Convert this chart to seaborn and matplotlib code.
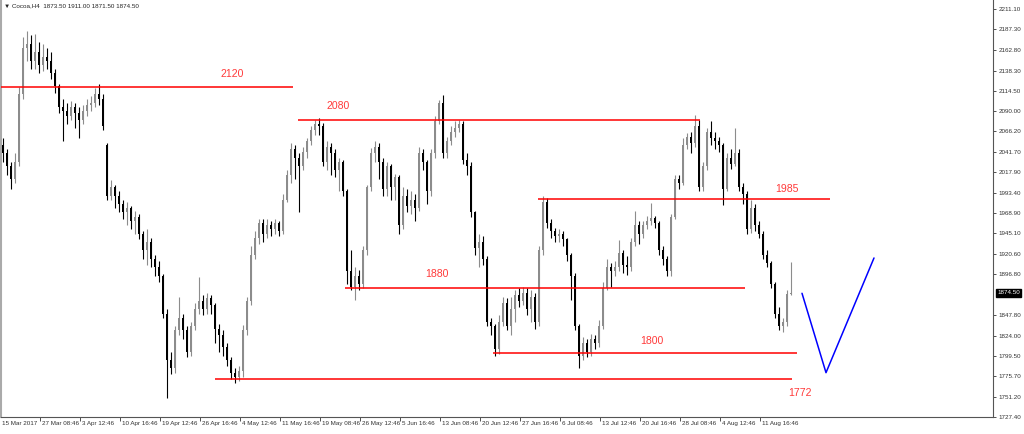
import numpy as np
import pandas as pd
import matplotlib
matplotlib.use("Agg")
import matplotlib.pyplot as plt
import seaborn as sns

# ---------------- data (Cocoa H4) ----------------
opens = [
    2050, 2040, 2025, 2010, 2030, 2110, 2165, 2170, 2150, 2160,
    2145, 2155, 2150, 2135, 2120, 2095, 2090, 2085, 2095, 2088,
    2080, 2090, 2097, 2100, 2110, 2105, 2050, 1990, 2000, 1990,
    1980, 1970, 1975, 1960, 1965, 1945, 1925, 1935, 1915, 1905,
    1895, 1850, 1795, 1785, 1830, 1845, 1830, 1805, 1835, 1855,
    1865, 1855, 1868, 1860, 1832, 1825, 1810, 1795, 1780, 1775,
    1782, 1830, 1865, 1920, 1940, 1958, 1945, 1955, 1950, 1958,
    1948, 1985, 2015, 2045, 2035, 2025, 2042, 2055, 2068, 2075,
    2072, 2030, 2048, 2040, 2020, 2030, 1995, 1900, 1882, 1895,
    1885, 1925, 2000, 2040, 2048, 2030, 1998, 2025, 2000, 2012,
    1955, 1990, 1978, 1985, 1975, 2040, 2030, 1995, 2040, 2078,
    2100, 2040, 2055, 2065, 2070, 2075, 2032, 2025, 1970, 1928,
    1935, 1915, 1840, 1835, 1808, 1840, 1862, 1835, 1855, 1872,
    1865, 1875, 1855, 1870, 1840, 1925, 1983, 1958, 1948, 1942,
    1945, 1938, 1920, 1895, 1835, 1800, 1815, 1805, 1820, 1815,
    1835, 1880, 1905, 1900, 1905, 1922, 1908, 1905, 1935, 1955,
    1945, 1955, 1960, 1963, 1958, 1926, 1915, 1900, 1965, 2010,
    2005, 2050, 2060, 2052, 2072, 2000, 2025, 2065, 2058, 2055,
    2050, 1998, 2035, 2028, 2040, 2000, 1992, 1950, 1975, 1955,
    1945, 1920, 1910, 1885, 1850, 1835, 1840, 1873.5,
]
highs = [
    2058, 2045, 2030, 2040, 2119, 2178, 2185, 2180, 2182, 2172,
    2170, 2165, 2160, 2140, 2122, 2105, 2100, 2102, 2100, 2095,
    2098, 2105, 2108, 2118, 2123, 2110, 2052, 2008, 2003, 1995,
    1985, 1982, 1978, 1972, 1968, 1948, 1950, 1940, 1920, 1912,
    1897, 1855, 1805, 1835, 1870, 1850, 1835, 1840, 1862, 1893,
    1872, 1875, 1872, 1862, 1838, 1830, 1815, 1798, 1785, 1788,
    1836, 1870, 1930, 1948, 1962, 1962, 1962, 1960, 1962, 1960,
    1992, 2020, 2052, 2050, 2040, 2048, 2058, 2072, 2080, 2082,
    2076, 2055, 2052, 2045, 2035, 2032, 1998, 1925, 1905, 1902,
    1930, 2003, 2046, 2055, 2052, 2035, 2030, 2028, 2016, 2015,
    2000, 1998, 1995, 1992, 2048, 2045, 2032, 2045, 2085, 2103,
    2109, 2060, 2072, 2078, 2080, 2078, 2040, 2030, 1972, 1945,
    1942, 1918, 1845, 1838, 1848, 1870, 1868, 1870, 1878, 1880,
    1882, 1880, 1878, 1875, 1930, 1990, 1987, 1962, 1952, 1950,
    1948, 1940, 1922, 1898, 1838, 1822, 1820, 1826, 1825, 1842,
    1888, 1915, 1910, 1912, 1937, 1926, 1918, 1940, 1972, 1960,
    1960, 1966, 1981, 1966, 1960, 1930, 1918, 1968, 2014, 2015,
    2058, 2064, 2066, 2086, 2080, 2030, 2070, 2078, 2066, 2060,
    2052, 2040, 2045, 2070, 2045, 2005, 1996, 1985, 1980, 1960,
    1948, 1925, 1912, 1888, 1858, 1845, 1878, 1911,
]
lows = [
    2030, 2015, 1998, 2005, 2025, 2105, 2150, 2140, 2140, 2135,
    2138, 2140, 2128, 2112, 2088, 2055, 2075, 2080, 2070, 2058,
    2075, 2085, 2090, 2095, 2098, 2068, 1985, 1985, 1975, 1970,
    1962, 1955, 1950, 1945, 1938, 1915, 1908, 1905, 1895, 1888,
    1845, 1750, 1778, 1780, 1825, 1820, 1798, 1800, 1830, 1850,
    1848, 1850, 1850, 1815, 1805, 1800, 1788, 1772, 1768, 1770,
    1775, 1825, 1860, 1915, 1932, 1935, 1940, 1942, 1945, 1942,
    1945, 1982, 2005, 2010, 1970, 2020, 2035, 2050, 2062, 2062,
    2025, 2020, 2015, 2012, 1995, 1990, 1885, 1878, 1866, 1878,
    1880, 1920, 1995, 2030, 2010, 1990, 1990, 1985, 1985, 1945,
    1950, 1970, 1968, 1960, 1972, 2020, 1980, 1990, 2035, 2075,
    2035, 2035, 2050, 2060, 2065, 2028, 2015, 1965, 1920, 1905,
    1908, 1835, 1825, 1800, 1802, 1835, 1830, 1825, 1840, 1858,
    1860, 1848, 1840, 1832, 1835, 1920, 1952, 1940, 1935, 1935,
    1930, 1912, 1866, 1830, 1786, 1795, 1798, 1800, 1808, 1810,
    1832, 1878, 1882, 1895, 1900, 1898, 1896, 1900, 1930, 1932,
    1940, 1950, 1955, 1952, 1920, 1908, 1895, 1895, 1962, 1998,
    2002, 2045, 2040, 2048, 1995, 1996, 2020, 2050, 2045, 2042,
    1979, 1995, 2022, 2025, 1995, 1980, 1945, 1946, 1948, 1940,
    1915, 1905, 1880, 1845, 1830, 1828, 1835, 1871.5,
]
closes = [
    2040, 2025, 2010, 2030, 2110, 2165, 2170, 2150, 2160, 2145,
    2155, 2150, 2135, 2120, 2095, 2090, 2085, 2095, 2088, 2080,
    2090, 2097, 2100, 2110, 2105, 2072, 1990, 2000, 1990, 1980,
    1970, 1975, 1960, 1965, 1945, 1925, 1935, 1915, 1905, 1895,
    1850, 1795, 1785, 1830, 1845, 1830, 1805, 1835, 1855, 1865,
    1855, 1868, 1860, 1832, 1825, 1810, 1795, 1780, 1775, 1782,
    1830, 1865, 1920, 1940, 1958, 1945, 1955, 1950, 1958, 1948,
    1985, 2015, 2045, 2035, 2025, 2042, 2055, 2068, 2075, 2072,
    2030, 2048, 2040, 2020, 2030, 1995, 1900, 1882, 1895, 1885,
    1925, 2000, 2040, 2048, 2030, 1998, 2025, 2000, 2012, 1955,
    1990, 1978, 1985, 1975, 2040, 2030, 1995, 2040, 2078, 2100,
    2040, 2055, 2065, 2070, 2075, 2032, 2025, 1970, 1928, 1935,
    1915, 1840, 1835, 1808, 1840, 1862, 1835, 1855, 1872, 1865,
    1875, 1855, 1870, 1840, 1925, 1983, 1958, 1948, 1942, 1945,
    1938, 1920, 1895, 1835, 1800, 1815, 1805, 1820, 1815, 1835,
    1880, 1905, 1900, 1905, 1922, 1908, 1905, 1935, 1955, 1945,
    1955, 1960, 1963, 1958, 1926, 1915, 1900, 1965, 2010, 2005,
    2050, 2060, 2052, 2072, 2000, 2025, 2065, 2058, 2055, 2050,
    1998, 2035, 2028, 2040, 2000, 1992, 1950, 1975, 1955, 1945,
    1920, 1910, 1885, 1850, 1835, 1840, 1873.5, 1874.5,
]

date_labels = ["15 Mar 2017", "27 Mar 08:46", "3 Apr 12:46", "10 Apr 16:46",
               "19 Apr 12:46", "26 Apr 16:46", "4 May 12:46", "11 May 16:46",
               "19 May 08:46", "26 May 12:46", "5 Jun 16:46", "13 Jun 08:46",
               "20 Jun 12:46", "27 Jun 16:46", "6 Jul 08:46", "13 Jul 12:46",
               "20 Jul 16:46", "28 Jul 08:46", "4 Aug 12:46", "11 Aug 16:46"]
date_bars = [0, 10, 20, 30, 40, 50, 60, 70, 80, 90,
             100, 110, 120, 130, 140, 150, 160, 170, 180, 190]

price_ticks = [2211.10, 2187.30, 2162.80, 2138.30, 2114.50, 2090.00, 2066.20,
               2041.70, 2017.90, 1993.40, 1968.90, 1945.10, 1920.60, 1896.80,
               1847.80, 1824.00, 1799.50, 1775.70, 1751.20, 1727.40]

# horizontal levels: price, start bar, end bar, label, label bar, label price
level_price = [2119.0, 2079.5, 1985.5, 1880.0, 1802.7, 1772.4]
level_start = [-0.75, 73.75, 133.75, 85.5, 122.5, 53.0]
level_end = [72.5, 174.25, 206.75, 185.5, 198.5, 197.25]
level_text = ["2120", "2080", "1985", "1880", "1800", "1772"]
level_text_bar = [57.25, 83.75, 196.0, 108.5, 162.25, 199.25]
level_text_price = [2134.3, 2096.3, 1997.9, 1897.0, 1817.5, 1755.8]

# projected blue V path
v_bar = [199.75, 205.75, 217.75]
v_price = [1874.1, 1779.9, 1916.0]

title_text = "\u25bc Cocoa,H4  1873.50 1911.00 1871.50 1874.50"
last_price = 1874.50

assert len(opens) == len(highs) == len(lows) == len(closes) == 198

df = pd.DataFrame({"open": opens, "high": highs, "low": lows, "close": closes})
df["bar"] = np.arange(len(df))

# ---------------- drawing ----------------
sns.set_theme(style="white")
plt.rcParams['font.family'] = ['Liberation Sans', 'DejaVu Sans']

fig = plt.figure(figsize=(10.24, 4.34), dpi=100)
fig.patch.set_facecolor("white")
ax = fig.add_axes([1 / 1024, 17 / 434, 992 / 1024, 417 / 434])
ax.set_facecolor("white")

up_col = "#8c8c8c"
dn_col = "#000000"
is_up = df["close"] >= df["open"]
cols = np.where(is_up, up_col, dn_col)

ax.vlines(df["bar"], df["low"], df["high"], colors=cols, linewidth=0.8, zorder=2)
body_lo = np.minimum(df["open"], df["close"])
body_h = np.maximum(np.abs(df["close"] - df["open"]), 1.2)
ax.bar(df["bar"], body_h, bottom=body_lo, width=0.5, color=cols,
       linewidth=0, zorder=3)

# levels
red = "#ff0000"
for p, x0, x1, t, tb, tp in zip(level_price, level_start, level_end,
                                level_text, level_text_bar, level_text_price):
    ax.hlines(p, x0, x1, color=red, linewidth=1.1, zorder=4)
    ax.text(tb, tp, t, color="#ff3a3a", fontsize=7.6, ha="center",
            va="center", zorder=5)

# blue V
vdf = pd.DataFrame({"bar": v_bar, "price": v_price})
sns.lineplot(data=vdf, x="bar", y="price", sort=False, color="#0000ff",
             linewidth=1.1, ax=ax, zorder=5)

ax.set_xlim(-0.5, 247.5)
ax.set_ylim(1727.3, 2222.1)
ax.set_xlabel("")
ax.set_ylabel("")

small = 4.5

# right price axis
ax.yaxis.tick_right()
ax.set_yticks(price_ticks)
ax.set_yticklabels([f"{v:.2f}" for v in price_ticks])
ax.tick_params(axis="y", which="both", right=True, left=False, length=2.5,
               width=0.6, pad=1.5, labelsize=small, colors="#333333",
               labelcolor="#333333", direction="out")

# bottom date axis
ax.set_xticks([b - 0.75 for b in date_bars[1:]])
ax.set_xticklabels([])
ax.tick_params(axis="x", which="both", bottom=True, length=3, width=0.6,
               colors="#333333", direction="out")
for b, lab in zip(date_bars, date_labels):
    ax.annotate(lab, xy=(b - 0.75, 0), xycoords=("data", "axes fraction"),
                xytext=(2, -4), textcoords="offset pixels", ha="left",
                va="top", fontsize=small, color="#333333", annotation_clip=False)

for side in ["left", "right", "bottom"]:
    ax.spines[side].set_visible(True)
    ax.spines[side].set_color("#555555")
    ax.spines[side].set_linewidth(0.8)
ax.spines["top"].set_visible(False)
ax.spines["left"].set_color("#aaaaaa")
ax.spines["left"].set_linewidth(1.5)

# last price box
ax.annotate(f"{last_price:.2f}", xy=(1.0, last_price),
            xycoords=("axes fraction", "data"), xytext=(4, 0),
            textcoords="offset pixels", ha="left", va="center",
            fontsize=small, color="white", annotation_clip=False,
            bbox=dict(boxstyle="square,pad=0.2", fc="black", ec="black"))

fig.text(4 / 1024, 1 - 6 / 434, title_text, fontsize=small, va="center",
         ha="left", color="#222222")

fig.savefig("out.png", dpi=100)
